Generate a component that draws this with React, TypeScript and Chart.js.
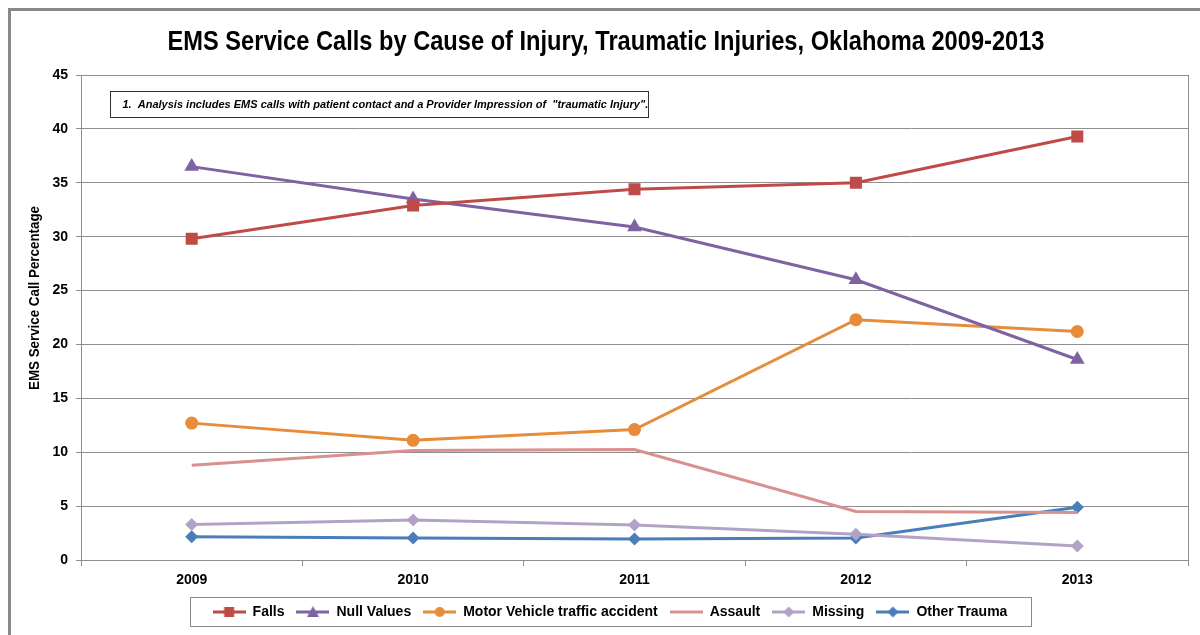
import React, { useEffect, useRef } from "react";
import { Chart, registerables } from "chart.js";

Chart.register(...registerables);

const years = ["2009", "2010", "2011", "2012", "2013"];
const falls = [29.8, 32.9, 34.4, 35.0, 39.3];
const nullValues = [36.5, 33.5, 30.9, 26.0, 18.6];
const motorVehicle = [12.7, 11.1, 12.1, 22.3, 21.2];
const assault = [8.8, 10.15, 10.25, 4.5, 4.4];
const missing = [3.3, 3.7, 3.25, 2.4, 1.3];
const otherTrauma = [2.15, 2.05, 1.95, 2.05, 4.9];
const yTicks = [0, 5, 10, 15, 20, 25, 30, 35, 40, 45];

const titleText = "EMS Service Calls by Cause of Injury, Traumatic Injuries, Oklahoma 2009-2013";
const noteText = '1.  Analysis includes EMS calls with patient contact and a Provider Impression of  "traumatic Injury".';
const yTitle = "EMS Service Call Percentage";

const FONT = '"Liberation Sans", Arial, sans-serif';
const GRID = "#8f8f8f";

type Series = { label: string; data: number[]; color: string; style: string | false; radius: number };

const series: Series[] = [
  { label: "Falls", data: falls, color: "#BE4B48", style: "rect", radius: 8.5 },
  { label: "Null Values", data: nullValues, color: "#7F62A1", style: "triangle", radius: 8.5 },
  { label: "Motor Vehicle traffic accident", data: motorVehicle, color: "#E68C3B", style: "circle", radius: 6.5 },
  { label: "Assault", data: assault, color: "#D9918F", style: false, radius: 0 },
  { label: "Missing", data: missing, color: "#B3A2C7", style: "rectRot", radius: 6.5 },
  { label: "Other Trauma", data: otherTrauma, color: "#4A7EBB", style: "rectRot", radius: 6.5 },
];

function legendImage(s: Series): HTMLCanvasElement {
  const c = document.createElement("canvas");
  c.width = 33;
  c.height = 14;
  const ctx = c.getContext("2d")!;
  ctx.strokeStyle = s.color;
  ctx.fillStyle = s.color;
  ctx.lineWidth = 3;
  ctx.beginPath();
  ctx.moveTo(0, 7);
  ctx.lineTo(33, 7);
  ctx.stroke();
  const cx = 16.5, cy = 7;
  ctx.beginPath();
  if (s.style === "rect") {
    ctx.rect(cx - 5, cy - 5, 10, 10);
  } else if (s.style === "triangle") {
    ctx.moveTo(cx, cy - 6);
    ctx.lineTo(cx + 6, cy + 5);
    ctx.lineTo(cx - 6, cy + 5);
    ctx.closePath();
  } else if (s.style === "circle") {
    ctx.arc(cx, cy, 5, 0, Math.PI * 2);
  } else if (s.style === "rectRot") {
    ctx.moveTo(cx, cy - 5.5);
    ctx.lineTo(cx + 5.5, cy);
    ctx.lineTo(cx, cy + 5.5);
    ctx.lineTo(cx - 5.5, cy);
    ctx.closePath();
  }
  if (s.style) ctx.fill();
  return c;
}

function drawNarrowText(ctx: CanvasRenderingContext2D, text: string, cx: number, cy: number, targetWidth: number) {
  const w = ctx.measureText(text).width;
  const k = targetWidth / w;
  ctx.save();
  ctx.translate(cx, cy);
  ctx.scale(k, 1);
  ctx.textAlign = "center";
  ctx.fillText(text, 0, 0);
  ctx.restore();
}

const decorPlugin = {
  id: "decor",
  afterLayout(chart: any) {
    const lg = chart.legend;
    if (lg) {
      lg.left += 16;
      lg.right += 16;
      lg.top += 1;
      lg.bottom += 1;
    }
  },
  beforeDraw(chart: any) {
    const ctx = chart.ctx;
    ctx.save();
    ctx.fillStyle = "#ffffff";
    ctx.fillRect(0, 0, chart.width, chart.height);
    // title
    ctx.fillStyle = "#000000";
    ctx.font = `bold 28px ${FONT}`;
    ctx.textBaseline = "alphabetic";
    drawNarrowText(ctx, titleText, 606, 50, 877);
    // y title
    ctx.font = `bold 14px ${FONT}`;
    ctx.textBaseline = "middle";
    ctx.save();
    ctx.translate(35, 298);
    ctx.rotate(-Math.PI / 2);
    drawNarrowText(ctx, yTitle, 0, 0, 184);
    ctx.restore();
    ctx.restore();
  },
  beforeDatasetsDraw(chart: any) {
    const { ctx, chartArea } = chart;
    ctx.save();
    ctx.strokeStyle = GRID;
    ctx.lineWidth = 1;
    ctx.strokeRect(
      Math.round(chartArea.left) + 0.5,
      Math.round(chartArea.top) + 0.5,
      Math.round(chartArea.right - chartArea.left),
      Math.round(chartArea.bottom - chartArea.top)
    );
    // note box
    const bx = Math.round(chartArea.left) + 29.5;
    const by = Math.round(chartArea.top) + 16.5;
    ctx.fillStyle = "#ffffff";
    ctx.fillRect(bx, by, 538, 26);
    ctx.strokeStyle = "#333333";
    ctx.strokeRect(bx, by, 538, 26);
    ctx.fillStyle = "#000000";
    ctx.font = `italic bold 11px ${FONT}`;
    ctx.textBaseline = "middle";
    ctx.textAlign = "left";
    ctx.fillText(noteText, bx + 12, by + 13);
    ctx.restore();
  },
  afterDraw(chart: any) {
    const ctx = chart.ctx;
    ctx.save();
    // outer frame
    ctx.strokeStyle = "#888888";
    ctx.lineWidth = 3;
    ctx.beginPath();
    ctx.moveTo(9.5, 640);
    ctx.lineTo(9.5, 9.5);
    ctx.lineTo(1205, 9.5);
    ctx.stroke();
    // legend box
    const items = chart.legend?.legendHitBoxes || [];
    if (items.length) {
      let l = Infinity, r = -Infinity, t = Infinity, b = -Infinity;
      for (const h of items) {
        l = Math.min(l, h.left);
        r = Math.max(r, h.left + h.width);
        t = Math.min(t, h.top);
        b = Math.max(b, h.top + h.height);
      }
      ctx.lineWidth = 1;
      ctx.strokeStyle = "#8a8a8a";
      ctx.strokeRect(Math.round(l - 23) + 0.5, Math.round(t - 8) + 0.5, Math.round(r - l + 46), Math.round(b - t + 15));
    }
    ctx.restore();
  },
};

export default function App() {
  const ref = useRef<HTMLCanvasElement | null>(null);
  useEffect(() => {
    if (!ref.current) return;
    const chart = new Chart(ref.current, {
      type: "line",
      data: {
        labels: years,
        datasets: series.map((s) => ({
          label: s.label,
          data: s.data,
          borderColor: s.color,
          backgroundColor: s.color,
          borderWidth: 3,
          pointStyle: s.style as any,
          pointRadius: s.radius,
          pointBorderWidth: 0,
          pointBackgroundColor: s.color,
          tension: 0,
          _img: legendImage(s),
        })) as any,
      },
      options: {
        responsive: false,
        animation: false,
        maintainAspectRatio: false,
        layout: { padding: { left: 0, right: 12, top: 75, bottom: 7 } },
        plugins: {
          tooltip: { enabled: false },
          title: { display: false },
          legend: {
            display: true,
            position: "bottom",
            labels: {
              color: "#000000",
              font: { family: FONT, size: 14, weight: "bold" },
              usePointStyle: true,
              pointStyleWidth: 33,
              boxHeight: 14,
              padding: 12,
              generateLabels: (chart: any) =>
                chart.data.datasets.map((ds: any, i: number) => ({
                  text: ds.label,
                  pointStyle: ds._img,
                  fillStyle: ds.borderColor,
                  strokeStyle: ds.borderColor,
                  lineWidth: 0,
                  hidden: false,
                  datasetIndex: i,
                  fontColor: "#000000",
                })),
            },
          },
        },
        scales: {
          x: {
            type: "category",
            offset: true,
            grid: {
              offset: true,
              drawOnChartArea: false,
              drawTicks: true,
              tickLength: 6,
              color: GRID,
            },
            border: { display: true, color: GRID },
            ticks: {
              color: "#000000",
              font: { family: FONT, size: 14, weight: "bold" },
              padding: 6,
              maxRotation: 0,
            },
            afterFit: (scale: any) => {
              scale.height = 32;
            },
          },
          y: {
            min: 0,
            max: 45,
            afterBuildTicks: (scale: any) => {
              scale.ticks = yTicks.map((v) => ({ value: v }));
            },
            grid: {
              color: GRID,
              drawTicks: true,
              tickLength: 5,
            },
            border: { display: true, color: GRID },
            ticks: {
              color: "#000000",
              font: { family: FONT, size: 14, weight: "bold" },
              padding: 8,
            },
            title: { display: false },
            afterFit: (scale: any) => {
              scale.width = 81;
            },
          },
        },
      },
      plugins: [decorPlugin],
    });
    return () => chart.destroy();
  }, []);
  return (
    <div style={{ position: "absolute", left: 0, top: 0, width: 1200, height: 635 }}>
      <canvas ref={ref} width={1200} height={635} style={{ display: "block", width: 1200, height: 635 }} />
    </div>
  );
}
